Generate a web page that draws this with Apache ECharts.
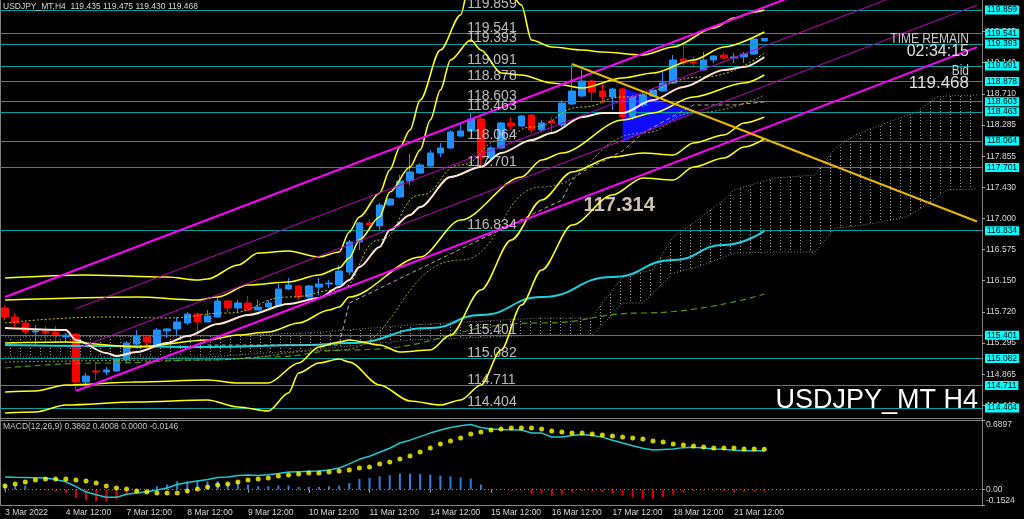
<!DOCTYPE html>
<html><head><meta charset="utf-8">
<script src="https://cdn.jsdelivr.net/npm/echarts@6/dist/echarts.min.js"></script>
<style>html,body{margin:0;padding:0;background:#000;}#c{width:1024px;height:519px;}</style>
</head><body><div id="c"></div>
<script>
// ---------- data ----------
const dayLabels = ['3 Mar 2022','4 Mar 12:00','7 Mar 12:00','8 Mar 12:00','9 Mar 12:00','10 Mar 12:00','11 Mar 12:00','14 Mar 12:00','15 Mar 12:00','16 Mar 12:00','17 Mar 12:00','18 Mar 12:00','21 Mar 12:00'];
const barsPerDay = 6;
const slotCount = 97;
// [open, close, low, high]
const candles = [
[115.775,115.651,115.610,115.816],[115.651,115.569,115.514,115.706],[115.569,115.446,115.377,115.596],[115.446,115.459,115.267,115.541],
[115.459,115.432,115.308,115.528],[115.446,115.404,115.295,115.528],[115.377,115.404,115.295,115.432],[115.418,114.760,114.651,115.432],
[114.760,114.842,114.705,114.884],[114.911,114.897,114.788,115.034],[114.897,114.925,114.856,114.966],[114.911,115.076,114.897,115.103],
[115.062,115.295,115.021,115.322],[115.281,115.391,115.267,115.473],[115.377,115.308,115.226,115.404],[115.267,115.473,115.240,115.500],
[115.459,115.487,115.363,115.500],[115.487,115.583,115.404,115.651],[115.569,115.692,115.541,115.720],[115.692,115.583,115.404,115.706],
[115.583,115.665,115.583,115.747],[115.651,115.871,115.638,115.912],[115.871,115.775,115.720,115.884],[115.775,115.843,115.720,115.884],
[115.843,115.747,115.733,115.939],[115.747,115.788,115.747,115.884],[115.788,115.843,115.775,115.884],[115.802,116.035,115.802,116.117],
[116.035,116.090,116.021,116.186],[116.076,115.925,115.884,116.090],[115.925,116.076,115.884,116.090],[116.062,116.103,115.953,116.186],
[116.103,116.117,116.049,116.158],[116.090,116.282,116.090,116.364],[116.268,116.680,116.227,116.707],[116.680,116.940,116.569,116.953],
[116.940,116.912,116.844,116.994],[116.899,117.186,116.844,117.214],[117.186,117.268,117.173,117.282],[117.296,117.515,117.282,117.597],
[117.515,117.639,117.460,117.885],[117.625,117.735,117.611,117.762],[117.721,117.899,117.707,117.940],[117.899,117.968,117.844,118.036],
[117.968,118.187,117.954,118.214],[118.132,118.201,118.118,118.310],[118.201,118.365,118.201,118.461],[118.365,117.830,117.707,118.392],
[117.830,117.968,117.803,117.995],[117.968,118.310,117.954,118.324],[118.310,118.269,118.214,118.392],[118.269,118.406,118.255,118.420],
[118.420,118.214,118.173,118.434],[118.214,118.310,118.187,118.351],[118.338,118.310,118.173,118.392],[118.283,118.584,118.255,118.625],
[118.571,118.749,118.557,119.105],[118.680,118.886,118.667,119.037],[118.886,118.735,118.598,118.900],[118.749,118.667,118.584,118.845],
[118.667,118.776,118.488,118.790],[118.776,118.392,118.351,118.790],[118.392,118.667,118.351,118.694],[118.557,118.694,118.529,118.721],
[118.680,118.762,118.667,118.790],[118.749,118.858,118.735,119.009],[118.858,119.174,118.845,119.242],[119.187,119.133,119.091,119.379],
[119.146,119.133,119.078,119.215],[119.037,119.174,119.023,119.283],[119.174,119.228,119.133,119.242],[119.242,119.201,119.174,119.283],
[119.201,119.215,119.133,119.270],[119.215,119.256,119.133,119.283],[119.256,119.461,119.242,119.475],[119.435,119.468,119.430,119.475]
];
const priceTicks = [114.440,114.865,115.295,115.720,116.150,116.575,117.000,117.430,117.855,118.285,118.710,119.140,119.565];
const levels = [119.859,119.541,119.393,119.091,118.878,118.603,118.463,118.064,117.701,116.834,115.401,115.082,114.711,114.404];
const bidPrice = 119.468;
const levelTextBar = 45;
const noteBar = 57, notePrice = 117.314;

// indicator lines: [barIndex, price]
const bandUpper3 = [[0,116.186],[8,116.227],[16,116.199],[19,116.158],[20,116.172],[23,116.364],[25,116.528],[28,116.556],[31,116.474],[33,116.542],[34,116.816],[35,117.022],[37,117.351],[38,117.666],[39,117.981],[40,118.214],[41,118.625],[43,119.311],[45,119.790],[46,120.339],[47,120.544],[48,120.476],[49,120.270],[50,120.065],[51,119.927],[52,119.448],[54,119.352],[57,119.311],[59,119.283],[63,119.242],[66,119.352],[70,119.612],[72,119.749],[74,119.832],[75,119.859]];
const bandUpper2 = [[0,115.884],[13,115.925],[19,115.884],[21,115.925],[24,116.090],[28,116.131],[31,116.227],[33,116.323],[34,116.460],[35,116.707],[37,117.022],[38,117.364],[40,117.707],[41,117.940],[42,118.351],[43,118.762],[44,119.174],[46,119.448],[47,119.311],[49,118.995],[51,118.968],[54,118.858],[57,118.790],[61,118.927],[64,118.995],[68,119.174],[71,119.352],[75,119.557]];
const bandLower1 = [[0,115.295],[6,115.308],[13,115.240],[20,115.336],[23,115.404],[26,115.446],[29,115.569],[32,115.747],[33,115.788],[34,115.925],[41,116.474],[45,116.981],[51,117.570],[53,117.803],[55,117.899],[61,118.351],[64,118.447],[68,118.667],[73,118.858],[75,118.968]];
const bandLower2 = [[0,114.623],[3,114.637],[6,114.719],[13,114.760],[20,114.788],[23,114.747],[26,114.747],[29,115.021],[31,115.240],[33,115.308],[34,115.336],[37,115.267],[39,115.172],[42,115.199],[44,115.404],[47,116.021],[50,116.707],[53,117.255],[56,117.639],[60,117.844],[63,117.899],[66,117.872],[68,118.036],[71,118.146],[73,118.310],[75,118.392]];
const bandLower3 = [[0,114.335],[3,114.349],[6,114.445],[13,114.486],[20,114.514],[23,114.418],[26,114.363],[28,114.610],[29,114.884],[31,115.021],[33,115.076],[34,115.034],[37,114.719],[40,114.500],[43,114.445],[45,114.514],[47,114.719],[49,115.199],[51,115.816],[53,116.295],[56,116.912],[60,117.323],[63,117.557],[66,117.529],[68,117.707],[71,117.830],[73,117.981],[75,118.091]];
const maWhite = [[0,115.500],[6,115.473],[7,115.336],[10,115.158],[11,115.117],[13,115.172],[16,115.295],[18,115.391],[21,115.555],[24,115.679],[28,115.829],[31,115.912],[33,116.062],[34,116.158],[35,116.336],[37,116.611],[38,116.844],[40,117.049],[41,117.159],[44,117.570],[47,117.707],[49,117.899],[52,118.077],[54,118.173],[57,118.392],[59,118.447],[61,118.447],[64,118.625],[67,118.804],[71,119.037],[73,119.078],[75,119.215]];
const maDotted = [[0,115.569],[10,115.651],[16,115.638],[22,115.706],[28,115.925],[33,116.021],[37,116.707],[41,117.323],[45,117.735],[49,118.077],[52,118.255],[57,118.529],[61,118.667],[69,118.941],[75,119.270]];
const maDotted2 = [[0,115.034],[20,115.062],[33,115.199],[45,116.432],[53,117.433],[63,118.173],[68,118.447],[75,118.694]];
const kijunDash = [[20,115.267],[33,115.267],[34,115.843],[55,117.255],[56,117.529],[57,117.639],[61,117.926],[63,118.173],[68,118.557],[72,118.557],[75,118.600]];
const maGreen = [[0,114.952],[10,115.021],[20,115.062],[26,115.103],[34,115.199],[53,115.569],[63,115.706],[75,115.966]];
const maCyan = [[0,115.267],[10,115.254],[20,115.240],[30,115.267],[34,115.295],[42,115.500],[47,115.679],[53,115.925],[60,116.199],[66,116.432],[71,116.638],[75,116.830]];
// ichimoku cloud
const cloudBars = [0,20,30,40,53,58,59,61,63,64,66,68,69,71,72,76,80,82,84,86,87,89,90,91,92,93,96];
const spanA = [115.377,115.391,115.432,115.541,115.638,115.638,115.843,116.199,116.268,116.295,116.748,116.940,117.049,117.255,117.392,117.557,117.597,117.968,118.146,118.255,118.310,118.406,118.461,118.557,118.667,118.680,118.694];
const spanB = [115.103,115.103,115.199,115.336,115.404,115.404,115.541,115.843,115.843,115.980,116.254,116.323,116.364,116.474,116.528,116.542,116.542,116.871,116.898,116.940,116.967,117.022,117.104,117.186,117.282,117.392,117.406];
// channel / trend lines
const channelUpper = [[0,115.925],[96,121.009]];
const channelUpperInner = [[7,115.766],[96,120.474]];
const channelLowerInner = [[7,115.213],[96,119.926]];
const channelLower = [[7,114.637],[96,119.350]];
const trendLine = [[56,119.119],[96,116.960]];
const triangle = [[61,118.790],[61,118.050],[68,118.461]];
// MACD
const macdMain = [0.125,0.122,0.12,0.118,0.115,0.10,0.078,0.03,-0.024,-0.05,
 -0.075,-0.076,-0.045,-0.034,-0.02,-0.004,0.016,0.05,0.07,0.085,
 0.10,0.12,0.125,0.14,0.145,0.14,0.148,0.16,0.174,0.178,
 0.182,0.184,0.195,0.214,0.255,0.30,0.33,0.37,0.41,0.462,
 0.49,0.525,0.56,0.59,0.615,0.633,0.645,0.615,0.60,0.595,
 0.594,0.59,0.561,0.56,0.521,0.521,0.535,0.545,0.535,0.52,
 0.49,0.462,0.435,0.41,0.393,0.398,0.402,0.416,0.42,0.412,
 0.402,0.40,0.389,0.385,0.386,0.3862];
const macdSignal = [0.036,0.056,0.075,0.095,0.105,0.105,0.105,0.095,0.085,0.065,
 0.036,0.016,0.006,-0.014,-0.024,-0.034,-0.034,-0.034,-0.014,0.006,
 0.026,0.046,0.056,0.075,0.095,0.105,0.115,0.135,0.145,0.155,
 0.165,0.165,0.174,0.184,0.194,0.214,0.224,0.254,0.274,0.303,
 0.333,0.373,0.412,0.452,0.482,0.511,0.551,0.571,0.591,0.601,
 0.610,0.610,0.610,0.601,0.581,0.571,0.561,0.561,0.551,0.541,
 0.531,0.521,0.511,0.501,0.482,0.472,0.452,0.442,0.432,0.422,
 0.412,0.412,0.412,0.402,0.402,0.4008];
const macdHist = [0.06,0.04,0.04,0.005,-0.01,-0.02,-0.03,-0.083,-0.106,-0.116,
 -0.116,-0.092,-0.05,-0.02,0.005,0.033,0.05,0.083,0.083,0.09,
 0.083,0.083,0.066,0.083,0.05,0.033,0.033,0.04,0.04,0.026,
 0.026,0.026,0.033,0.04,0.066,0.106,0.116,0.132,0.142,0.159,
 0.159,0.155,0.149,0.139,0.132,0.122,0.109,0.05,0.005,-0.005,
 -0.01,-0.01,-0.05,-0.04,-0.06,-0.05,-0.026,-0.013,-0.02,-0.026,
 -0.04,-0.06,-0.076,-0.092,-0.089,-0.073,-0.05,-0.026,-0.013,-0.01,
 -0.01,-0.013,-0.023,-0.023,-0.016,-0.0146];
const macdMin = -0.1524, macdMax = 0.6897;

// ---------- chart ----------
const FONT = '"Liberation Sans", Arial, sans-serif';
const categories = Array.from({length: slotCount}, (_, i) => 'b' + i);
const isLabelBar = i => i % barsPerDay === 0 && (i / barsPerDay) < dayLabels.length;

const hatch = document.createElement('canvas');
hatch.width = 10; hatch.height = 3;
(function(){ const c = hatch.getContext('2d'); c.fillStyle = '#9a9a9a'; c.fillRect(0,0,1,1); })();

function ln(data, color, width, type, smooth, z) {
  return {type:'line', xAxisIndex:0, yAxisIndex:0, data, symbol:'none', showSymbol:false,
    smooth: smooth || false, smoothMonotone:'x', silent:true, animation:false, z: z || 5,
    lineStyle:{color, width, type: type || 'solid'}};
}

const levelMarks = [{yAxis:bidPrice, lineStyle:{opacity:0}, label:{backgroundColor:'#FFFFFF', formatter: bidPrice.toFixed(3)}}]
  .concat(levels.map(v=>({yAxis:v, label:{formatter: v.toFixed(3)}})));

const chart = echarts.init(document.getElementById('c'), null, {renderer:'canvas', width:1024, height:519});
const option = {
  backgroundColor:'#000000',
  animation:false,
  grid:[
    {left:-4, right:42, top:0, height:418},
    {left:-4, right:42, top:420, height:85}
  ],
  xAxis:[
    {type:'category', gridIndex:0, data:categories, boundaryGap:true,
     axisLine:{show:false}, axisTick:{show:false}, axisLabel:{show:false}, splitLine:{show:false}},
    {type:'category', gridIndex:1, data:categories, boundaryGap:true,
     axisLine:{show:false},
     axisTick:{show:true, alignWithLabel:true, interval:(i)=>isLabelBar(i), length:3, lineStyle:{color:'#A0A0A0'}},
     axisLabel:{show:true, interval:(i)=>isLabelBar(i), formatter:(v,i)=> isLabelBar(i) ? dayLabels[i/barsPerDay] : '',
       align:'left', margin:3, color:'#D8D8D8', fontSize:8.5, fontFamily:FONT},
     splitLine:{show:false}}
  ],
  yAxis:[
    {type:'value', gridIndex:0, position:'right', min:114.267, max:119.996, scale:true,
     axisLine:{show:false}, splitLine:{show:false},
     axisTick:{show:true, customValues:priceTicks, length:3, inside:false, lineStyle:{color:'#A0A0A0'}},
     axisLabel:{show:true, customValues:priceTicks, formatter:v=>v.toFixed(3), color:'#D8D8D8', fontSize:8.5, fontFamily:FONT, margin:4}},
    {type:'value', gridIndex:1, position:'right', min:macdMin, max:macdMax,
     axisLine:{show:false}, splitLine:{show:false},
     axisTick:{show:true, customValues:[macdMax,0,macdMin], length:3, lineStyle:{color:'#A0A0A0'}},
     axisLabel:{show:true, customValues:[macdMax,0,macdMin], margin:4,
       formatter:v=> v>0.5 ? '{t|'+v.toFixed(4)+'}' : (v< -0.1 ? '{b|'+v.toFixed(4)+'}' : '{m|0.00}'),
       rich:{t:{padding:[10,0,0,0],color:'#D8D8D8',fontSize:8.5,fontFamily:FONT},
             b:{padding:[0,0,8,0],color:'#D8D8D8',fontSize:8.5,fontFamily:FONT},
             m:{color:'#D8D8D8',fontSize:8.5,fontFamily:FONT}}}}
  ],
  series:[
    // ichimoku cloud hatch
    {type:'custom', xAxisIndex:0, yAxisIndex:0, z:1, silent:true, animation:false,
     data: cloudBars.map((b,k)=>[b, spanA[k], spanB[k]]),
     renderItem:(params, api)=>{
       const k = params.dataIndex;
       if (k >= cloudBars.length - 1) return null;
       const pts = [api.coord([cloudBars[k], spanA[k]]), api.coord([cloudBars[k+1], spanA[k+1]]),
                    api.coord([cloudBars[k+1], spanB[k+1]]), api.coord([cloudBars[k], spanB[k]])];
       return {type:'polygon', shape:{points:pts}, style:{fill:{image:hatch, repeat:'repeat'}}};
     }},
    ln(cloudBars.map((b,k)=>[b,spanA[k]]), '#8c8c8c', 1, [1,2], false, 1),
    ln(cloudBars.map((b,k)=>[b,spanB[k]]), '#8c8c8c', 1, [1,2], false, 1),
    // triangle object
    {type:'custom', xAxisIndex:0, yAxisIndex:0, z:2, silent:true, animation:false, data:[0],
     renderItem:(params, api)=>({type:'polygon', shape:{points: triangle.map(t=>api.coord(t))}, style:{fill:'#0c0cff'}})},
    // horizontal levels + axis boxes
    {type:'line', xAxisIndex:0, yAxisIndex:0, data:[], z:3, silent:true,
     markLine:{symbol:['none','none'], silent:true, animation:false, precision:3,
       lineStyle:{color:'#00a0a0', width:1, type:'solid'},
       label:{show:true, position:'end', distance:3,
         color:'#000', backgroundColor:'#00FFFF', padding:[0,2,0,2], lineHeight:9, fontSize:8.5, fontFamily:FONT},
       data: levelMarks}},
    // candles
    {type:'candlestick', xAxisIndex:0, yAxisIndex:0, z:4, data:candles, barWidth:7, silent:true,
     itemStyle:{color:'#1E90FF', color0:'#FF0000', borderColor:'#1E90FF', borderColor0:'#FF0000', borderWidth:1}},
    // moving averages and bands
    ln(maGreen, '#4f9a00', 1.2, [6,4], true),
    ln(maCyan, '#19d3e0', 2, 'solid', true),
    ln(maDotted2, '#9a9a20', 1, [2,2], true),
    ln(kijunDash, '#b8a898', 1, [4,3], false),
    ln(maDotted, '#c8c820', 1, [2,2], true),
    ln(bandUpper3, '#ffff10', 1.6, 'solid', 0.3),
    ln(bandUpper2, '#ffff10', 1.6, 'solid', 0.3),
    ln(bandLower1, '#ffff10', 1.6, 'solid', 0.3),
    ln(bandLower2, '#ffff10', 1.6, 'solid', 0.3),
    ln(bandLower3, '#ffff10', 1.6, 'solid', 0.3),
    ln(maWhite, '#ffe6d6', 2, 'solid', 0.3),
    // channel and trend lines
    ln(channelUpper, '#ff00ff', 2),
    ln(channelUpperInner, '#c000c0', 1),
    ln(channelLowerInner, '#c000c0', 1),
    ln(channelLower, '#ff00ff', 2),
    ln(trendLine, '#e8b800', 2),
    // level texts on chart
    {type:'scatter', xAxisIndex:0, yAxisIndex:0, z:7, silent:true, symbolSize:1, itemStyle:{color:'transparent'},
     data: levels.map(v=>[levelTextBar, v]),
     label:{show:true, position:[7,2], align:'left', verticalAlign:'bottom', formatter:p=>p.value[1].toFixed(3),
       color:'#E6E6E6', fontSize:14, fontFamily:FONT}},
    {type:'scatter', xAxisIndex:0, yAxisIndex:0, z:7, silent:true, symbolSize:1, itemStyle:{color:'transparent'},
     data:[[noteBar, notePrice]],
     label:{show:true, position:[2,0], align:'left', verticalAlign:'top', formatter:p=>p.value[1].toFixed(3),
       color:'#FFF0DC', fontSize:20, fontWeight:'bold', fontFamily:FONT}},
    // MACD
    {type:'bar', xAxisIndex:1, yAxisIndex:1, data:macdHist, barWidth:2, z:3, silent:true,
     itemStyle:{color:p=> p.value >= 0 ? '#2a7fe0' : '#e00000'},
     markLine:{symbol:['none','none'], silent:true, animation:false, label:{show:false},
       lineStyle:{color:'#8a8a8a', width:1, type:[1,3]}, data:[{yAxis:0}]}},
    {type:'line', xAxisIndex:1, yAxisIndex:1, data:macdMain, symbol:'none', z:4, silent:true,
     lineStyle:{color:'#1ec8d2', width:1.5}},
    {type:'scatter', xAxisIndex:1, yAxisIndex:1, data:macdSignal, symbolSize:5, z:5, silent:true,
     itemStyle:{color:'#ffff00'}}
  ],
  graphic:[
    {type:'line', shape:{x1:0.5,y1:0,x2:0.5,y2:505}, style:{stroke:'#808080', lineWidth:1}, silent:true},
    {type:'line', shape:{x1:982.5,y1:0,x2:982.5,y2:506}, style:{stroke:'#808080', lineWidth:1}, silent:true},
    {type:'line', shape:{x1:0,y1:418.5,x2:982,y2:418.5}, style:{stroke:'#808080', lineWidth:1}, silent:true},
    {type:'line', shape:{x1:0,y1:420.5,x2:982,y2:420.5}, style:{stroke:'#808080', lineWidth:1}, silent:true},
    {type:'line', shape:{x1:0,y1:505.5,x2:982,y2:505.5}, style:{stroke:'#808080', lineWidth:1}, silent:true},
    {type:'text', x:3, y:2, z:10, silent:true, style:{text:'USDJPY_MT,H4  119.435 119.475 119.430 119.468', fill:'#D8D8D8', font:'8.5px '+FONT, verticalAlign:'top'}},
    {type:'text', x:3, y:422, z:10, silent:true, style:{text:'MACD(12,26,9) 0.3862 0.4008 0.0000 -0.0146', fill:'#C8C8C8', font:'8.5px '+FONT, verticalAlign:'top'}},
    {type:'text', x:969, y:31, scaleX:0.8, z:10, silent:true, style:{text:'TIME REMAIN', fill:'#C8C8C8', font:'15px '+FONT, align:'right', verticalAlign:'top'}},
    {type:'text', x:969, y:44, z:10, silent:true, style:{text:'02:34:15', fill:'#E0E0E0', font:'16px '+FONT, align:'right', verticalAlign:'top'}},
    {type:'text', x:969, y:63, scaleX:0.8, z:10, silent:true, style:{text:'Bid', fill:'#C8C8C8', font:'15px '+FONT, align:'right', verticalAlign:'top'}},
    {type:'text', x:969, y:75, z:10, silent:true, style:{text:'119.468', fill:'#E0E0E0', font:'17px '+FONT, align:'right', verticalAlign:'top'}},
    {type:'text', x:978, y:414, z:10, silent:true, style:{text:'USDJPY_MT H4', fill:'#FFFFFF', font:'27px '+FONT, align:'right', verticalAlign:'bottom'}}
  ]
};
chart.setOption(option);
</script>
</body></html>
